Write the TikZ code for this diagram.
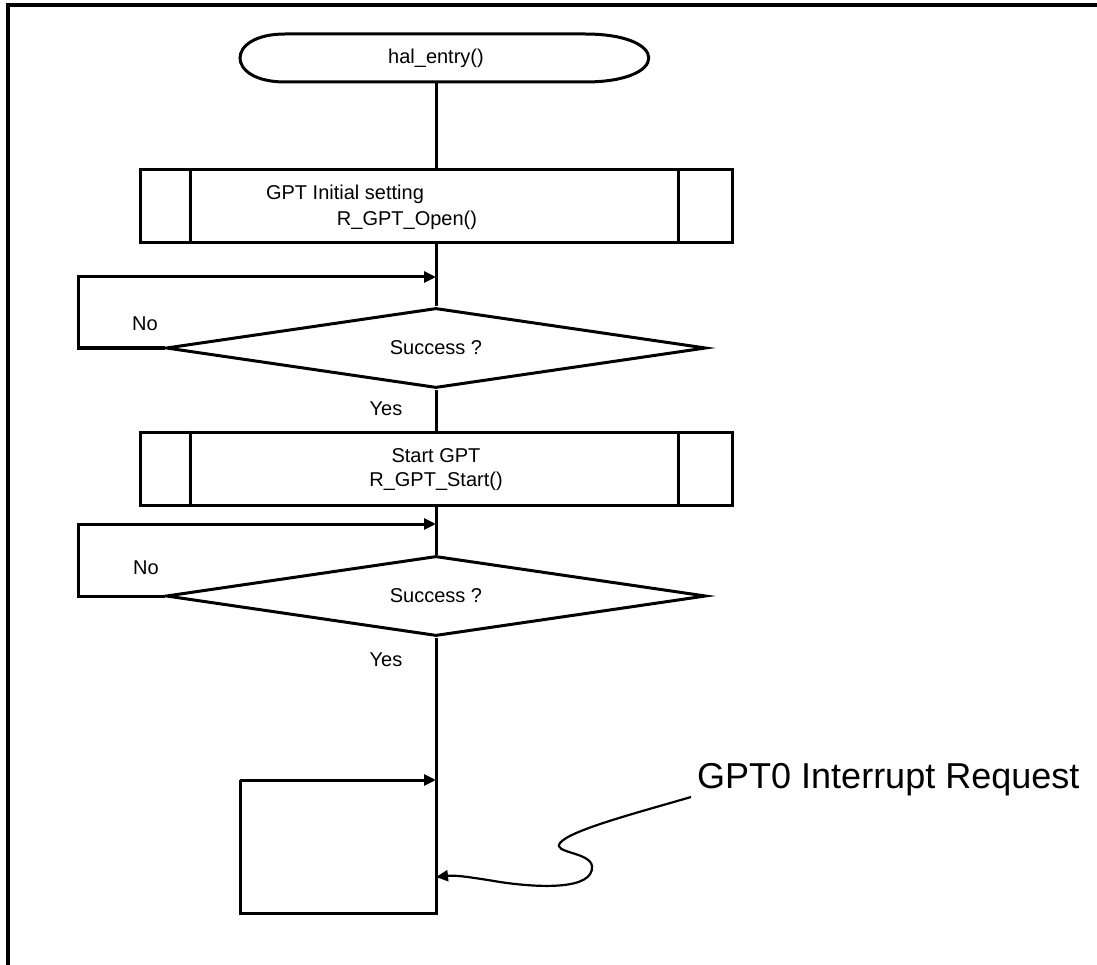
\documentclass[tikz,border=0pt]{standalone}
\usepackage{fontspec}
\setmainfont{Liberation Sans}
\usetikzlibrary{shapes.geometric,arrows.meta}
\begin{document}
\begin{tikzpicture}[x=1pt,y=-1pt,
  every node/.style={font=\fontsize{20}{24}\selectfont},
  ln/.style={line width=3pt},
  arr/.style={ln,-{Triangle[length=12pt,width=11pt]}},
  predef/.style={draw,ln,rectangle,minimum width=592pt,minimum height=73pt,inner sep=0pt},
  dec/.style={draw,ln,diamond,aspect=6.8,minimum width=540pt,minimum height=80pt,inner sep=0pt},
  lbl/.style={inner sep=0pt}]
\useasboundingbox (0,0) rectangle (1097,965);
% frame
\draw[line width=4pt] (1097,5) -- (8,5) -- (8,965);

\node[lbl,minimum width=408pt,minimum height=48pt] (start) at (444,58) {};
\node[lbl] (starttxt) at (436,58) {hal\_entry()};
\draw[ln] (285,34) -- (585,34) .. controls (670,34) and (670,82) .. (585,82)
  -- (285,82) .. controls (225,82) and (225,34) .. (285,34) -- cycle;

\node[predef] (p1) at (436,206.5) {};
\draw[ln] ([xshift=52pt]p1.north west) -- ([xshift=52pt]p1.south west);
\draw[ln] ([xshift=-55pt]p1.north east) -- ([xshift=-55pt]p1.south east);
\node[lbl] (p1a) at (345,194) {GPT Initial setting};
\node[lbl] (p1b) at (407,220) {R\_GPT\_Open()};

\node[dec] (d1) at (436,348) {Success ?};
\node[lbl] (no1) at (145,324) {No};
\node[lbl] (yes1) at (386,409) {Yes};

\node[predef] (p2) at (436,468.5) {};
\draw[ln] ([xshift=52pt]p2.north west) -- ([xshift=52pt]p2.south west);
\draw[ln] ([xshift=-55pt]p2.north east) -- ([xshift=-55pt]p2.south east);
\node[lbl] (p2a) at (436,456) {Start GPT};
\node[lbl] (p2b) at (436,481) {R\_GPT\_Start()};

\node[dec] (d2) at (436,596) {Success ?};
\node[lbl] (no2) at (146,568) {No};
\node[lbl] (yes2) at (386,660) {Yes};

\node[lbl,anchor=west,font=\fontsize{36}{40}\selectfont] (irq) at (697,780) {GPT0 Interrupt Request};

\coordinate (j1) at (436,277);
\coordinate (j2) at (436,524);
\coordinate (j3) at (436,780);
\coordinate (j4) at (436,877);
\coordinate (b3) at (436,913);

\draw[ln] (start.south -| p1.north) -- (p1.north);
\draw[ln] (p1.south) -- (d1.north);
\draw[arr] (d1.west) -- (78,348) -- (78,277) -- (j1);
\draw[ln] (d1.south) -- (p2.north);
\draw[ln] (p2.south) -- (d2.north);
\draw[arr] (d2.west) -- (78,596) -- (78,524) -- (j2);
\draw[ln] (d2.south) -- (b3) -- (240,913) -- (240,780);
\draw[arr] (240,780) -- (j3);
\draw[line width=2.2pt,-{Triangle[length=12pt,width=11pt]}] (irq.west) ++(-6,17)
  .. controls (640,812) and (570,830) .. (560,843)
  .. controls (552,853) and (590,852) .. (592,866)
  .. controls (594,890) and (540,888) .. (500,882)
  .. controls (470,877) and (455,875) .. (j4);
\end{tikzpicture}
\end{document}
